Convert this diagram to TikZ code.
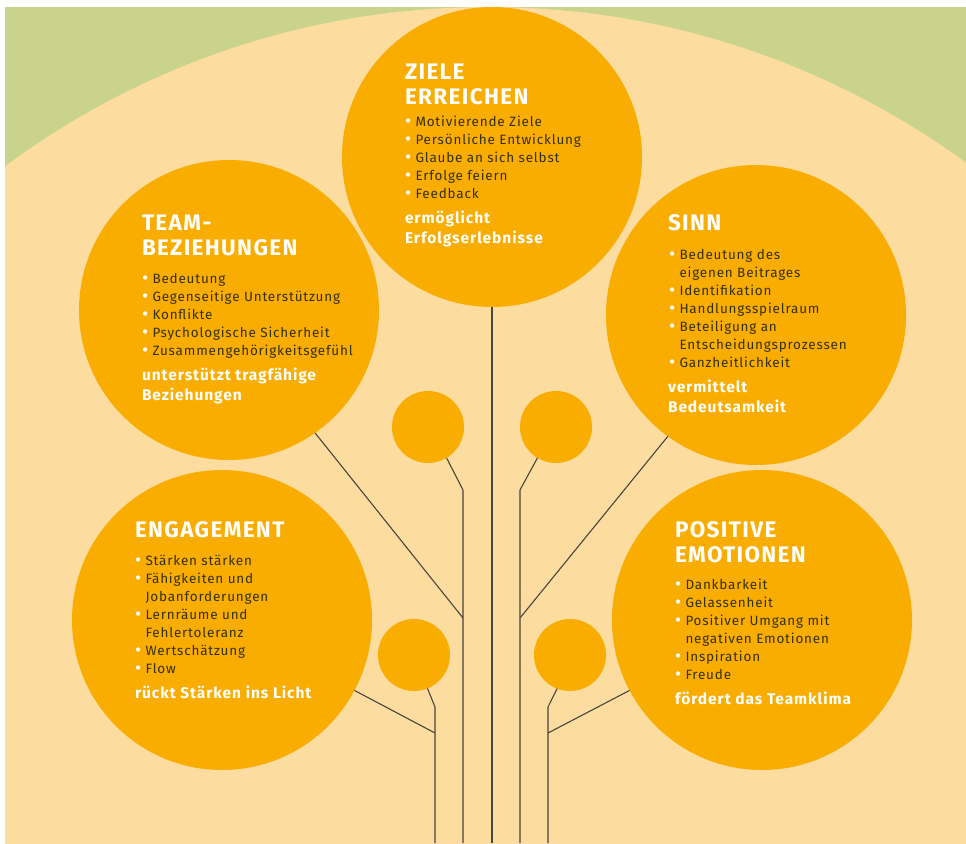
\documentclass[tikz,border=0pt]{standalone}
\usepackage{fontspec}
\setmainfont{Fira Sans}[LetterSpace=6]
\usepackage{xcolor}
\usetikzlibrary{calc}
\definecolor{leaf}{HTML}{C9D38C}
\definecolor{crown}{HTML}{FDDCA0}
\definecolor{fruit}{HTML}{F8AD00}
\definecolor{ink}{HTML}{36300F}
\definecolor{twig}{HTML}{48453B}
\tikzset{
  every node/.style = {inner sep = 0pt, outer sep = 0pt}
}
\tikzset{
  bigfruit/.style = {circle, fill = fruit, minimum size = 300pt},
  smallfruit/.style = {circle, fill = fruit, minimum size = 72pt},
  head/.style = {anchor = base west, align = left, text = white,
    font = \fontsize{22.5}{25}\selectfont\bfseries},
  list/.style = {anchor = base west, align = left, text = ink,
    font = \fontsize{13.5}{18}\selectfont},
  foot/.style = {anchor = base west, align = left, text = white,
    font = \fontsize{15.5}{20}\selectfont\bfseries},
  twigline/.style = {draw = twig, line width = 1.1pt}
}
\newcommand{\bul}{\makebox[10.5pt][l]{\raisebox{-1.6pt}{\textcolor{white}{\fontsize{19}{18}\selectfont\textbullet}}}}
\newcommand{\cont}{\hspace*{10.5pt}}

\begin{document}
\begin{tikzpicture}[x=1pt, y=-1pt]
\useasboundingbox (0,0) rectangle (966,843);

% Background: meadow and crown
\fill[leaf] (5,7) rectangle (966,843);
\begin{scope}
  \clip (5,7) rectangle (966,843);
  \fill[crown] (488,818) circle[radius=811];
\end{scope}

% The five fruits
\node[bigfruit] (ziele) at (492,157) {};
\node[bigfruit] (team) at (229,310) {};
\node[bigfruit] (sinn) at (756,315) {};
\node[bigfruit] (engagement) at (222,620) {};
\node[bigfruit] (emotion) at (762,620) {};

% Small fruits
\node[smallfruit] (sfa) at (428,427) {};
\node[smallfruit] (sfb) at (556,427) {};
\node[smallfruit] (sfc) at (414,655) {};
\node[smallfruit] (sfd) at (570,655) {};

% Location of knees and stem ends
%  k1  .  k2       (upper small fruits)
%  j1  .  j2       (team / sinn)
%  k3  .  k4       (lower small fruits)
%  j3  .  j4       (engagement / emotion)
\coordinate (k1) at (463,490);
\coordinate (j1) at (463,618);
\coordinate (e1) at (463,843);
\coordinate (k2) at (520,490);
\coordinate (j2) at (520,618);
\coordinate (e2) at (520,843);
\coordinate (k3) at (435,707);
\coordinate (j3) at (435,733);
\coordinate (e3) at (435,843);
\coordinate (k4) at (548,707);
\coordinate (j4) at (548,733);
\coordinate (e4) at (548,843);
\coordinate (e0) at (492,843);

% The stems
\draw[twigline] (ziele.south) -- (e0);
\draw[twigline] (sfa.-59) -- (k1) -- (e1);
\draw[twigline] (team.-55) -- (j1);
\draw[twigline] (sfb.-121) -- (k2) -- (e2);
\draw[twigline] (sinn.-126) -- (j2);
\draw[twigline] (sfc.-68) -- (k3) -- (e3);
\draw[twigline] (engagement.-28) -- (j3);
\draw[twigline] (sfd.-111) -- (k4) -- (e4);
\draw[twigline] (emotion.-152) -- (j4);

% Ziele erreichen (base = last line)
\node[head] (ziele-head) at (405,104) {ZIELE\\ERREICHEN};
\node[list] (ziele-list) at (405,198) {\bul Motivierende Ziele\\
  \bul Persönliche Entwicklung\\
  \bul Glaube an sich selbst\\
  \bul Erfolge feiern\\
  \bul Feedback};
\node[foot] (ziele-foot) at (405,243) {ermöglicht\\Erfolgserlebnisse};

% Teambeziehungen
\node[head] (team-head) at (142,255) {TEAM-\\BEZIEHUNGEN};
\node[list] (team-list) at (142,355) {\bul Bedeutung\\
  \bul Gegenseitige Unterstützung\\
  \bul Konflikte\\
  \bul Psychologische Sicherheit\\
  \bul Zusammengehörigkeitsgefühl};
\node[foot] (team-foot) at (142,400) {unterstützt tragfähige\\Beziehungen};

% Sinn
\node[head] (sinn-head) at (668,230) {SINN};
\node[list] (sinn-list) at (669,367) {\bul Bedeutung des\\
  \cont eigenen Beitrages\\
  \bul Identifikation\\
  \bul Handlungsspielraum\\
  \bul Beteiligung an\\
  \cont Entscheidungsprozessen\\
  \bul Ganzheitlichkeit};
\node[foot] (sinn-foot) at (668,412) {vermittelt\\Bedeutsamkeit};

% Engagement
\node[head] (engagement-head) at (135,537) {ENGAGEMENT};
\node[list] (engagement-list) at (135,673) {\bul Stärken stärken\\
  \bul Fähigkeiten und\\
  \cont Jobanforderungen\\
  \bul Lernräume und\\
  \cont Fehlertoleranz\\
  \bul Wertschätzung\\
  \bul Flow};
\node[foot] (engagement-foot) at (135,698) {rückt Stärken ins Licht};

% Positive Emotionen
\node[head] (emotion-head) at (675,562) {POSITIVE\\EMOTIONEN};
\node[list] (emotion-list) at (675,679) {\bul Dankbarkeit\\
  \bul Gelassenheit\\
  \bul Positiver Umgang mit\\
  \cont negativen Emotionen\\
  \bul Inspiration\\
  \bul Freude};
\node[foot] (emotion-foot) at (675,704) {fördert das Teamklima};
\end{tikzpicture}
\end{document}
